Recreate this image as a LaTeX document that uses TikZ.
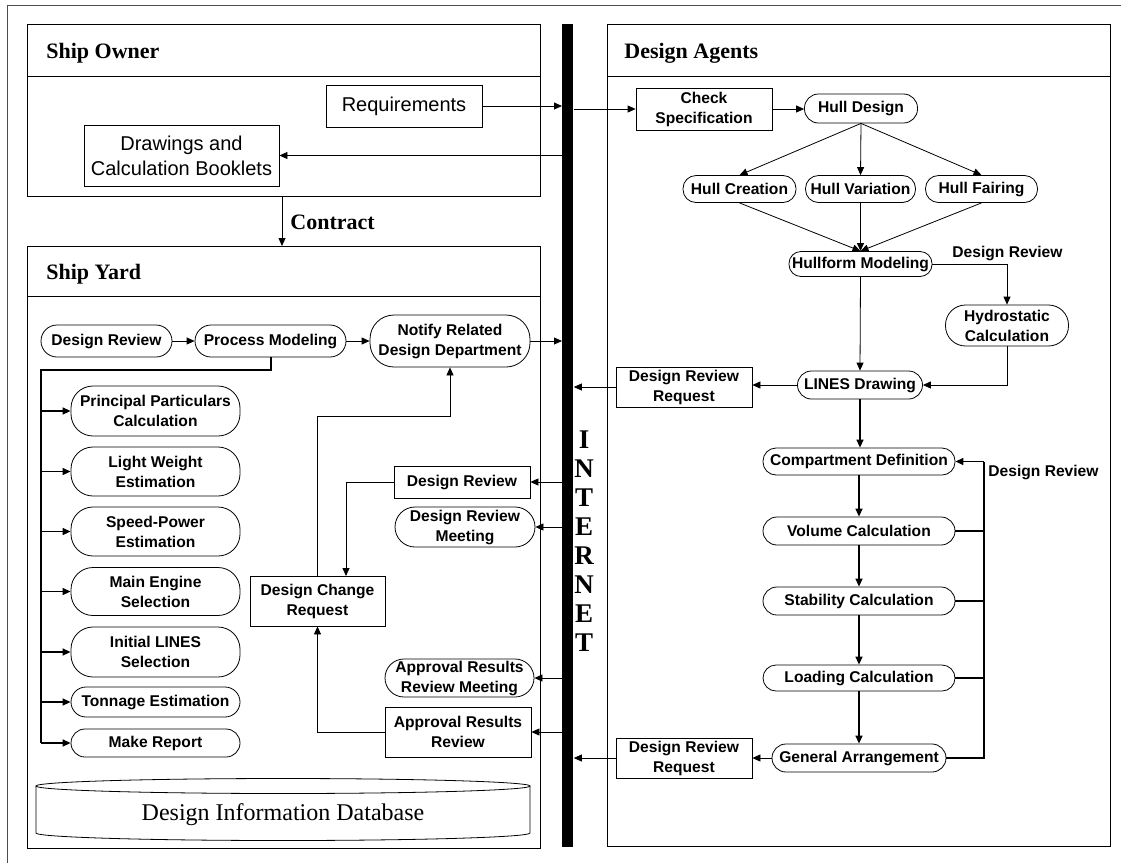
\documentclass[tikz,border=0pt]{standalone}
\usepackage{fontspec}
\setmainfont{Liberation Serif}
\newfontfamily\arialfont{Liberation Sans}
\usepackage{tikz}
\usetikzlibrary{arrows.meta}

\begin{document}
\begin{tikzpicture}[x=1pt, y=-1pt, line width=0.8pt,
		box/.style = {draw, rectangle, align=center, inner sep=0pt, font=\nodefont},
		pill/.style = {draw, rectangle, rounded corners=#1, align=center, inner sep=0pt, font=\nodefont},
		pill/.default = 13pt,
		frame/.style = {draw, rectangle, anchor=north west, inner sep=0pt},
		title/.style = {anchor=base west, inner sep=0pt, font=\titlefont},
		heavy/.style = {line width=1.4pt},
		tip/.style = {-{Stealth[inset=0pt, length=8pt, width=7pt]}}]
			\def\nodefont{\arialfont\bfseries\fontsize{15.6}{20}\selectfont}
			\def\plainfont{\arialfont\fontsize{20}{25}\selectfont}
			\def\titlefont{\bfseries\fontsize{22}{26}\selectfont}
			\def\netfont{\bfseries\fontsize{27}{29}\selectfont}
			\def\dbfont{\fontsize{24}{28}\selectfont}

			\useasboundingbox (0,0) rectangle (1121,863);
			\draw [black!70] (7,863) -- (7,5) -- (1121,5);

			\coordinate (ctr) at (282,0);
			\coordinate (brk) at (41,370);
			\coordinate (up) at (400,416);
			\coordinate (dn) at (346,576);
			\coordinate (fb) at (984,461.5);

			% frames and the internet bar
			\begin{scope}
				\node [frame, minimum width=513pt, minimum height=172pt] (owner) at (27,24) {};
				\node [frame, minimum width=513pt, minimum height=602pt] (yard) at (27,246) {};
				\node [frame, minimum width=503pt, minimum height=822pt] (agents) at (607,24) {};
				\draw ([yshift=-52pt]owner.north west) -- ([yshift=-52pt]owner.north east);
				\draw ([yshift=-50pt]yard.north west) -- ([yshift=-50pt]yard.north east);
				\draw ([yshift=-52pt]agents.north west) -- ([yshift=-52pt]agents.north east);

				\node [title] (ownertitle) at (46,58) {Ship Owner};
				\node [title] (yardtitle) at (46,279) {Ship Yard};
				\node [title] (agentstitle) at (624,58) {Design Agents};

				\node [fill=black, anchor=north west, inner sep=0pt, minimum width=11pt, minimum height=823pt] (net) at (562,24) {};
				\node [align=center, inner sep=0pt, font=\netfont] (nettext) at (584,541) {I\\N\\T\\E\\R\\N\\E\\T};
			\end{scope}

			% ship owner
			\begin{scope}
				\node [box, font=\plainfont, minimum width=156pt, minimum height=42pt] (req) at (404,106) {Requirements};
				\node [box, font=\plainfont, minimum width=195pt, minimum height=61pt] (drw) at (181.5,155.5) {Drawings and\\Calculation Booklets};

				\draw [tip] (req.east) -- (req.east -| net.west);
				\draw [tip] (drw.east -| net.west) -- (drw.east);
				\draw [tip] (owner.south -| ctr) -- (yard.north -| ctr);
				\node [title] (contract) at (290,229) {Contract};
			\end{scope}

			% design agents
			\begin{scope}
				\node [box, minimum width=136pt, minimum height=42pt] (chk) at (704,109) {Check\\Specification};
				\node [pill=14pt, minimum width=113pt, minimum height=29pt] (hd) at (861,108.5) {Hull Design};
				\node [pill, minimum width=113pt, minimum height=27pt] (hc) at (739.5,189) {Hull Creation};
				\node [pill, minimum width=110pt, minimum height=27pt] (hv) at (860.5,189) {Hull Variation};
				\node [pill, minimum width=112pt, minimum height=27pt] (hf) at (981.5,189) {Hull Fairing};
				\node [pill=12pt, minimum width=143pt, minimum height=25pt] (hm) at (860.5,264) {Hullform Modeling};
				\node [inner sep=0pt, font=\nodefont] (hmreview) at (1007.5,253) {Design Review};
				\node [pill=20pt, minimum width=123pt, minimum height=41pt] (hy) at (1007,325.5) {Hydrostatic\\Calculation};
				\node [pill=14pt, minimum width=125pt, minimum height=28pt] (ld) at (860,385) {LINES Drawing};
				\node [box, minimum width=136pt, minimum height=40pt] (drq1) at (684,387) {Design Review\\Request};

				\node [pill, minimum width=192pt, minimum height=27pt] (cd) at (859,461.5) {Compartment Definition};
				\node [pill=14pt, minimum width=192pt, minimum height=28pt] (vc) at (859,531) {Volume Calculation};
				\node [pill=14pt, minimum width=192pt, minimum height=28pt] (sc) at (859,601) {Stability Calculation};
				\node [pill, minimum width=192pt, minimum height=26pt] (lc) at (859,678) {Loading Calculation};
				\node [pill=14pt, minimum width=174pt, minimum height=28pt] (ga) at (859,758) {General Arrangement};
				\node [box, minimum width=136pt, minimum height=40pt] (drq2) at (684,758) {Design Review\\Request};
				\node [inner sep=0pt, font=\nodefont] (cdreview) at (1043.5,472) {Design Review};

				\draw [tip] (chk.west -| net.east) -- (chk.west);
				\draw [tip] (chk.east) -- (chk.east -| hd.west);
				\draw [tip] (hd.south) -- (hc.north);
				\draw [tip] (hd.south) -- (hv.north);
				\draw [tip] (hd.south) -- (hf.north);
				\draw [tip] (hc.south) -- (hm.north);
				\draw [tip] (hv.south) -- (hm.north);
				\draw [tip] (hf.south) -- (hm.north);
				\draw [tip] (hm.east) -| (hy.north);
				\draw [tip] (hm.south) -- (ld.north);
				\draw [tip] (hy.south) |- (ld.east);
				\draw [tip] (ld.west) -- (ld.west -| drq1.east);
				\draw [tip] (drq1.west) -- (drq1.west -| net.east);

				\draw [tip, heavy] (ld.south) -- (ld.south |- cd.north);
				\draw [tip, heavy] (cd.south) -- (vc.north);
				\draw [tip, heavy] (vc.south) -- (sc.north);
				\draw [tip, heavy] (sc.south) -- (lc.north);
				\draw [tip, heavy] (lc.south) -- (ga.north);
				\draw [tip] (ga.west) -- (drq2.east);
				\draw [tip] (drq2.west) -- (drq2.west -| net.east);

				\draw [heavy] (vc.east) -- (vc.east -| fb);
				\draw [heavy] (sc.east) -- (sc.east -| fb);
				\draw [heavy] (lc.east) -- (lc.east -| fb);
				\draw [heavy] (ga.east) -| (fb);
				\draw [tip, heavy] (fb) -- (cd.east);
			\end{scope}

			% ship yard
			\begin{scope}
				\node [pill=16pt, minimum width=131pt, minimum height=32pt] (sdr) at (106.5,341) {Design Review};
				\node [pill=16pt, minimum width=151pt, minimum height=32pt] (pm) at (270.5,341) {Process Modeling};
				\node [pill=24pt, minimum width=160pt, minimum height=52pt] (nt) at (450,341) {Notify Related\\Design Department};

				\node [pill=22pt, minimum width=169pt, minimum height=50pt] (pp) at (155.5,411) {Principal Particulars\\Calculation};
				\node [pill=22pt, minimum width=169pt, minimum height=49pt] (lw) at (155.5,471.5) {Light Weight\\Estimation};
				\node [pill=22pt, minimum width=169pt, minimum height=49pt] (sp) at (155.5,531.5) {Speed-Power\\Estimation};
				\node [pill=22pt, minimum width=169pt, minimum height=48pt] (me) at (155.5,591.5) {Main Engine\\Selection};
				\node [pill=22pt, minimum width=169pt, minimum height=50pt] (il) at (155.5,652) {Initial LINES\\Selection};
				\node [pill=15pt, minimum width=169pt, minimum height=30pt] (te) at (155.5,702) {Tonnage Estimation};
				\node [pill=14pt, minimum width=169pt, minimum height=28pt] (mr) at (155.5,743) {Make Report};

				\node [box, minimum width=136pt, minimum height=32pt] (rev) at (462,482) {Design Review};
				\node [pill=20pt, minimum width=140pt, minimum height=40pt] (mtg) at (465,527) {Design Review\\Meeting};
				\node [box, minimum width=135pt, minimum height=50pt] (dcr) at (317.5,601) {Design Change\\Request};
				\node [pill=19pt, minimum width=149pt, minimum height=38pt] (arm) at (459.5,678) {Approval Results\\Review Meeting};
				\node [box, minimum width=146pt, minimum height=50pt] (arr) at (458,732) {Approval Results\\Review};

				\draw [tip] (sdr.east) -- (pm.west);
				\draw [tip] (pm.east) -- (nt.west);
				\draw [tip] (nt.east) -- (nt.east -| net.west);

				\draw [line width=2pt] (pm.south) |- (brk) -- (brk |- mr.west);
				\draw [tip, heavy] (brk |- pp.west) -- (pp.west);
				\draw [tip, heavy] (brk |- lw.west) -- (lw.west);
				\draw [tip, heavy] (brk |- sp.west) -- (sp.west);
				\draw [tip, heavy] (brk |- me.west) -- (me.west);
				\draw [tip, heavy] (brk |- il.west) -- (il.west);
				\draw [tip, heavy] (brk |- te.west) -- (te.west);
				\draw [tip, heavy] (brk |- mr.west) -- (mr.west);

				\draw [tip] (dcr.north) |- (up) -| (nt.south);
				\draw [tip] (rev.west) -| (dn);
				\draw [tip] (arr.west) -| (dcr.south);

				\draw [tip] (rev.east -| net.west) -- (rev.east);
				\draw [tip] (mtg.east -| net.west) -- (mtg.east);
				\draw [tip] (arm.east -| net.west) -- (arm.east);
				\draw [tip] (arr.east -| net.west) -- (arr.east);
			\end{scope}

			% database
			\begin{scope}
				\draw (283,786) ellipse [x radius=247pt, y radius=7.5pt];
				\draw (36,786) -- (36,833) arc [start angle=180, end angle=360, x radius=247pt, y radius=7.5pt] -- (530,786);
				\node [anchor=base, inner sep=0pt, font=\dbfont] (db) at (283,820) {Design Information Database};
			\end{scope}
		\end{tikzpicture}
\end{document}
